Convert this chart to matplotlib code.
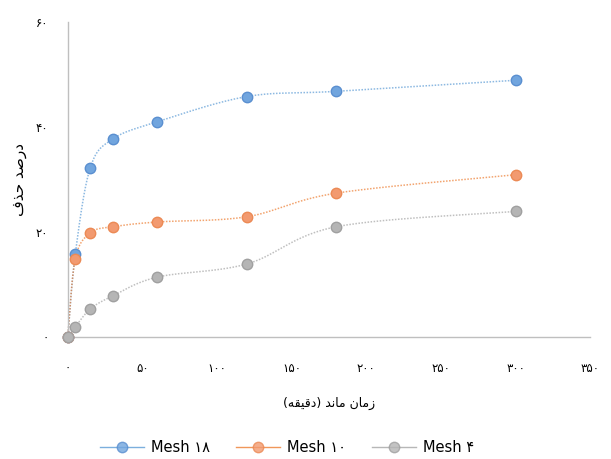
import numpy as np
import matplotlib
matplotlib.use("Agg")
import matplotlib.pyplot as plt
from matplotlib.lines import Line2D

# ---- data ----
time_min = [0, 5, 15, 30, 60, 120, 180, 300]
mesh18 = [0, 15.8, 32.2, 37.7, 41.0, 45.8, 46.8, 48.9]
mesh10 = [0, 14.9, 19.8, 21.0, 21.9, 22.9, 27.4, 30.9]
mesh4 = [0, 1.9, 5.3, 7.8, 11.4, 13.9, 21.0, 23.9]
series_names = ["Mesh \u06f1\u06f8", "Mesh \u06f1\u06f0", "Mesh \u06f4"]
x_ticks = [0, 50, 100, 150, 200, 250, 300, 350]
y_ticks = [0, 20, 40, 60]

line_colors = ["#5b9bd5", "#ed7d31", "#a5a5a5"]
marker_face = ["#71a5de", "#f29a70", "#b5b5b5"]
marker_edge = ["#5a8fd0", "#ec8a55", "#a0a0a0"]

PERSIAN = "\u06f0\u06f1\u06f2\u06f3\u06f4\u06f5\u06f6\u06f7\u06f8\u06f9"


def fa(n):
    return "".join(PERSIAN[int(c)] for c in str(n))


def smooth(x, y, n=30):
    # Catmull-Rom style smoothing for display of the line only
    x = np.asarray(x, float)
    y = np.asarray(y, float)
    P = np.column_stack([x, y])
    P = np.vstack([P[0], P, P[-1]])
    out = []
    for i in range(1, len(P) - 2):
        p0, p1, p2, p3 = P[i - 1], P[i], P[i + 1], P[i + 2]
        c1 = p1 + (p2 - p0) / 6.0
        c2 = p2 - (p3 - p1) / 6.0
        t = np.linspace(0, 1, n)[:, None]
        b = ((1 - t) ** 3) * p1 + 3 * ((1 - t) ** 2) * t * c1 + 3 * (1 - t) * t ** 2 * c2 + t ** 3 * p2
        out.append(b if i == 1 else b[1:])
    B = np.vstack(out)
    return B[:, 0], B[:, 1]


fig = plt.figure(figsize=(6.11, 4.59), dpi=100)
ax = fig.add_axes([0.111, 0.266, 0.855, 0.686])

for ys, lc, mf, me in zip([mesh18, mesh10, mesh4], line_colors, marker_face, marker_edge):
    sx, sy = smooth(time_min, ys)
    ax.plot(sx, sy, color=lc, lw=1.1, linestyle=(0, (1, 1)), alpha=0.7, zorder=2)
    ax.plot(time_min, ys, linestyle="none", marker="o", markersize=7.5,
            markerfacecolor=mf, markeredgecolor=me, markeredgewidth=1.0, zorder=3)

ax.set_xlim(0, 350)
ax.set_ylim(0, 60)
ax.set_xticks(x_ticks)
ax.set_xticklabels([fa(v) for v in x_ticks], fontsize=8.5, family=["DejaVu Sans"])
ax.set_yticks(y_ticks)
ax.set_yticklabels([fa(v) for v in y_ticks], fontsize=8.5, family=["DejaVu Sans"])
ax.tick_params(length=0, pad=18, axis="x")
ax.tick_params(length=0, pad=14, axis="y")
for s in ["top", "right"]:
    ax.spines[s].set_visible(False)
for s in ["left", "bottom"]:
    ax.spines[s].set_color("#bfbfbf")
    ax.spines[s].set_linewidth(1.0)
for art in ax.lines:
    art.set_clip_on(False)

# y label: "درصد حذف" (presentation forms, visual order)
ylab = "\ufed1\ufeac\ufea3 \ufeaa\ufebb\ufead\ufea9"
ax.set_ylabel(ylab, fontsize=11, family=["DejaVu Sans"])
ax.yaxis.set_label_coords(-0.078, 0.50)
# x label: "زمان ماند (دقیقه)"
xlab = "(\ufeea\ufed8\ufef4\ufed7\ufea9) \ufeaa\ufee7\ufe8e\ufee3 \ufee5\ufe8e\ufee3\ufeaf"
ax.set_xlabel(xlab, fontsize=9, family=["DejaVu Sans"], labelpad=16)

handles = [Line2D([0], [0], color=lc, lw=1.0, alpha=0.8, marker="o", markersize=7.5,
                  markerfacecolor=mf, markeredgecolor=me)
           for lc, mf, me in zip(line_colors, marker_face, marker_edge)]
fig.legend(handles, series_names, loc="lower center", ncol=3, frameon=False,
           bbox_to_anchor=(0.47, -0.02), handlelength=3.0, handletextpad=0.5,
           columnspacing=1.8,
           prop={"family": ["Liberation Sans Narrow", "DejaVu Sans"], "size": 10.5})

fig.savefig("out.png", dpi=100)
